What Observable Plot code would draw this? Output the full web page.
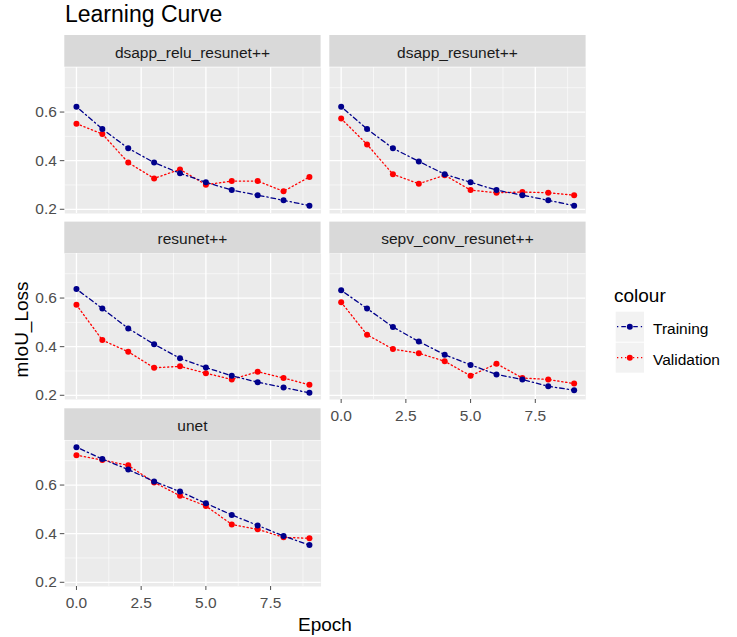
<!DOCTYPE html>
<html><head><meta charset="utf-8">
<script src="https://cdn.jsdelivr.net/npm/d3@7"></script>
<script src="https://cdn.jsdelivr.net/npm/@observablehq/plot@0.6"></script>
<style>
body{margin:0;background:#fff;font-family:"Liberation Sans",Arial,sans-serif;}
#root{position:relative;width:737px;height:637px;overflow:hidden;background:#fff}
</style></head><body><div id="root"></div>
<script>
// ---- data ----
const epochs = [0, 1, 2, 3, 4, 5, 6, 7, 8, 9];
const models = ["dsapp_relu_resunet++", "dsapp_resunet++", "resunet++", "sepv_conv_resunet++", "unet"];
const seriesNames = ["Training", "Validation"];
const seriesColors = ["#00008B", "#FF0000"];
const xTicks = [0, 2.5, 5, 7.5];
const yTicks = [0.2, 0.4, 0.6];

const trainDsappRelu = [0.622, 0.530, 0.451, 0.392, 0.348, 0.311, 0.279, 0.258, 0.237, 0.215];
const valDsappRelu   = [0.552, 0.510, 0.392, 0.327, 0.364, 0.301, 0.316, 0.316, 0.274, 0.333];
const trainDsapp     = [0.622, 0.530, 0.451, 0.397, 0.344, 0.311, 0.279, 0.258, 0.237, 0.215];
const valDsapp       = [0.573, 0.467, 0.344, 0.305, 0.340, 0.279, 0.268, 0.271, 0.268, 0.258];
const trainResunet   = [0.637, 0.557, 0.475, 0.410, 0.352, 0.314, 0.280, 0.254, 0.232, 0.210];
const valResunet     = [0.572, 0.427, 0.379, 0.313, 0.319, 0.291, 0.265, 0.297, 0.271, 0.243];
const trainSepv      = [0.632, 0.557, 0.481, 0.421, 0.367, 0.325, 0.286, 0.265, 0.237, 0.221];
const valSepv        = [0.583, 0.449, 0.390, 0.373, 0.340, 0.280, 0.330, 0.271, 0.265, 0.248];
const trainUnet      = [0.756, 0.707, 0.664, 0.615, 0.573, 0.525, 0.477, 0.434, 0.390, 0.353];
const valUnet        = [0.723, 0.703, 0.681, 0.611, 0.556, 0.514, 0.438, 0.418, 0.385, 0.381];

const trainByModel = [trainDsappRelu, trainDsapp, trainResunet, trainSepv, trainUnet];
const valByModel = [valDsappRelu, valDsapp, valResunet, valSepv, valUnet];

// ---- layout ----
const colLeft = [64.3, 329.3];
const rowTop = [66.7, 253.3, 440];
const panelW = 256.3, panelH = 146, stripH = 31.7;
const dashes = {Training: "1.3,3,4.6,3", Validation: "1.3,2.7"};
const font = '"Liberation Sans", Arial, sans-serif';

const allVals = trainByModel.flat().concat(valByModel.flat());
const xe = d3.extent(epochs), ye = d3.extent(allVals);
const xPad = (xe[1] - xe[0]) * 0.05, yPad = (ye[1] - ye[0]) * 0.05;
const xDomain = [xe[0] - xPad, xe[1] + xPad];
const yDomain = [ye[0] - yPad, ye[1] + yPad];
const xMinor = xTicks.map(t => t + 1.25);
const yMinor = yTicks.map(t => t + 0.1);

const root = document.getElementById("root");

// overlay for titles, strips, legend
const ov = d3.select(root).append("svg")
  .attr("width", 737).attr("height", 637)
  .style("position", "absolute").style("left", 0).style("top", 0)
  .style("font-family", font);

ov.append("text").attr("x", 65).attr("y", 21.7).attr("font-size", 23).attr("fill", "#000").text("Learning Curve");
ov.append("text").attr("x", 325).attr("y", 631).attr("text-anchor", "middle").attr("font-size", 19).attr("fill", "#000").text("Epoch");
ov.append("text").attr("transform", "translate(28,329.5) rotate(-90)").attr("text-anchor", "middle").attr("font-size", 19).attr("fill", "#000").text("mIoU_Loss");

// legend
ov.append("text").attr("x", 614).attr("y", 301.7).attr("font-size", 19).attr("fill", "#000").text("colour");
seriesNames.forEach((s, k) => {
  const top = 311.7 + k * 31, cy = top + 15;
  const g = ov.append("g");
  g.append("rect").attr("x", 615.7).attr("y", top).attr("width", 28.3).attr("height", 30).attr("fill", "#F2F2F2");
  g.append("line").attr("x1", 617).attr("x2", 642.5).attr("y1", cy).attr("y2", cy)
    .attr("stroke", seriesColors[k]).attr("stroke-width", 1.3).attr("stroke-dasharray", dashes[s]);
  g.append("circle").attr("cx", 629.8).attr("cy", cy).attr("r", 3).attr("fill", seriesColors[k]);
  g.append("text").attr("x", 653).attr("y", cy + 7.3).attr("font-size", 15.5).attr("fill", "#000").text(s);
});

// panels
models.forEach((m, i) => {
  const c = i % 2, r = Math.floor(i / 2);
  const showY = c === 0;
  const showX = i + 2 >= models.length;
  const rows = [];
  epochs.forEach((e, j) => {
    rows.push({epoch: e, loss: trainByModel[i][j], series: "Training"});
    rows.push({epoch: e, loss: valByModel[i][j], series: "Validation"});
  });
  const val = rows.filter(d => d.series === "Validation");
  const tr = rows.filter(d => d.series === "Training");

  // strip
  const sx = colLeft[c], sy = rowTop[r] - stripH;
  ov.append("rect").attr("x", sx).attr("y", sy).attr("width", panelW).attr("height", stripH).attr("fill", "#D9D9D9");
  ov.append("text").attr("x", sx + panelW / 2).attr("y", sy + 22.5).attr("text-anchor", "middle")
    .attr("font-size", 15.5).attr("fill", "#1A1A1A").text(m);

  const ml = showY ? colLeft[0] : 0;
  const mb = showX ? 40 : 0;
  const marks = [
    Plot.frame({fill: "#EBEBEB", stroke: null}),
    Plot.gridX(xMinor, {stroke: "#fff", strokeOpacity: 1, strokeWidth: 0.6}),
    Plot.gridY(yMinor, {stroke: "#fff", strokeOpacity: 1, strokeWidth: 0.6}),
    Plot.gridX(xTicks, {stroke: "#fff", strokeOpacity: 1, strokeWidth: 1.3}),
    Plot.gridY(yTicks, {stroke: "#fff", strokeOpacity: 1, strokeWidth: 1.3}),
  ];
  if (showY) marks.push(Plot.axisY({ticks: yTicks, tickFormat: d3.format(".1f"), tickSize: 4.5, tickPadding: 3.5,
    fontSize: 15.5, color: "#4D4D4D", label: null}));
  if (showX) marks.push(Plot.axisX({ticks: xTicks, tickFormat: d3.format(".1f"), tickSize: 4, tickPadding: 6.5,
    fontSize: 15.5, color: "#4D4D4D", label: null}));
  marks.push(
    Plot.line(val, {x: "epoch", y: "loss", stroke: "series", strokeWidth: 1.3, strokeDasharray: dashes.Validation}),
    Plot.dot(val, {x: "epoch", y: "loss", fill: "series", r: 3, stroke: null}),
    Plot.line(tr, {x: "epoch", y: "loss", stroke: "series", strokeWidth: 1.3, strokeDasharray: dashes.Training}),
    Plot.dot(tr, {x: "epoch", y: "loss", fill: "series", r: 3, stroke: null})
  );

  const el = Plot.plot({
    width: ml + panelW, height: panelH + mb,
    marginLeft: ml, marginRight: 0, marginTop: 0, marginBottom: mb,
    x: showX ? {domain: xDomain} : {domain: xDomain, axis: null},
    y: showY ? {domain: yDomain} : {domain: yDomain, axis: null},
    color: {domain: seriesNames, range: seriesColors},
    style: {background: "transparent", overflow: "visible", fontFamily: font, fontSize: "15.5px"},
    marks
  });
  el.style.position = "absolute";
  el.style.left = (colLeft[c] - ml) + "px";
  el.style.top = rowTop[r] + "px";
  el.style.maxWidth = "none";
  root.appendChild(el);
});
</script></body></html>
